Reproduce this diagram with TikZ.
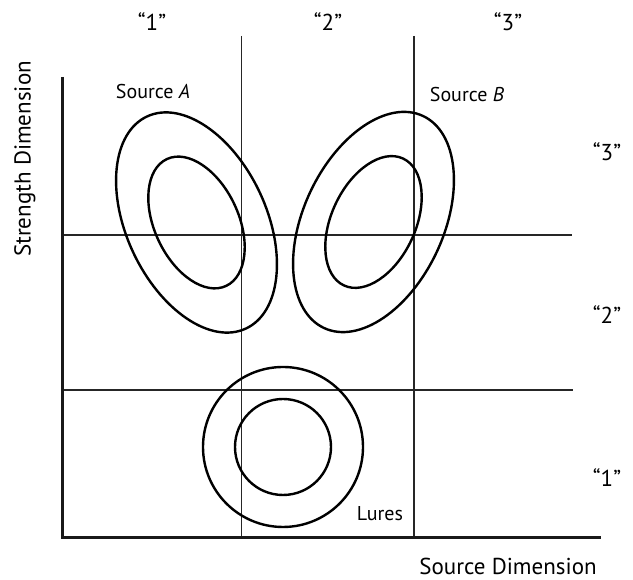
\documentclass[tikz,border=0pt]{standalone}
\usepackage{fontspec}
\setmainfont{PT Sans}
\begin{document}
\begin{tikzpicture}[x=1pt,y=1pt,
  axisline/.style={line width=3pt,black!90},
  gridline/.style={line width=1.4pt,black!85},
  contour/.style={line width=2.4pt,black},
  lbl/.style={inner sep=0pt,font=\fontsize{23}{27}\selectfont},
  smalllbl/.style={inner sep=0pt,font=\fontsize{20}{24}\selectfont}]
\useasboundingbox (0,0) rectangle (633,580);
% coordinates
\coordinate (ytop) at (62,503);
\coordinate (orig) at (62,42);
\coordinate (xend) at (601,42);
\coordinate (h1l) at (62,345);
\coordinate (h1r) at (572,345);
\coordinate (h2l) at (62,190);
\coordinate (h2r) at (573,190);
\coordinate (v1t) at (241.5,544);
\coordinate (v1b) at (241.5,42);
\coordinate (v2t) at (414,544);
\coordinate (v2b) at (414,42);
% grid
\draw[gridline] (h1l) -- (h1r);
\draw[gridline] (h2l) -- (h2r);
\draw[gridline] (v1t) -- (v1b);
\draw[gridline] (v2t) -- (v2b);
% axes
\draw[axisline] (ytop) -- (orig) -- (xend);
% contours
\coordinate (ca) at (196.5,357.5);
\coordinate (cb) at (373.5,358);
\coordinate (cl) at (283,133);
\draw[contour,rotate around={-65:(ca)}] (ca) ellipse [x radius=117,y radius=70];
\draw[contour,rotate around={-65:(ca)}] (ca) ellipse [x radius=70,y radius=42];
\draw[contour,rotate around={65:(cb)}] (cb) ellipse [x radius=117,y radius=70];
\draw[contour,rotate around={65:(cb)}] (cb) ellipse [x radius=70,y radius=42];
\draw[contour] (cl) circle [radius=80];
\draw[contour] (cl) circle [radius=48];
% labels
\node[lbl] (t1) at (152,558) {“1”};
\node[lbl] (t2) at (328,558) {“2”};
\node[lbl] (t3) at (508,558) {“3”};
\node[lbl] (r3) at (607,428) {“3”};
\node[lbl] (r2) at (607,265) {“2”};
\node[lbl] (r1) at (607,102) {“1”};
\node[smalllbl] (sa) at (153,488) {Source \textit{A}};
\node[smalllbl] (sb) at (467,485) {Source \textit{B}};
\node[smalllbl] (lu) at (380,66) {Lures};
\node[lbl,anchor=base] (sd) at (508,5) {Source Dimension};
\node[lbl,rotate=90] (st) at (25,421) {Strength Dimension};
\end{tikzpicture}
\end{document}
